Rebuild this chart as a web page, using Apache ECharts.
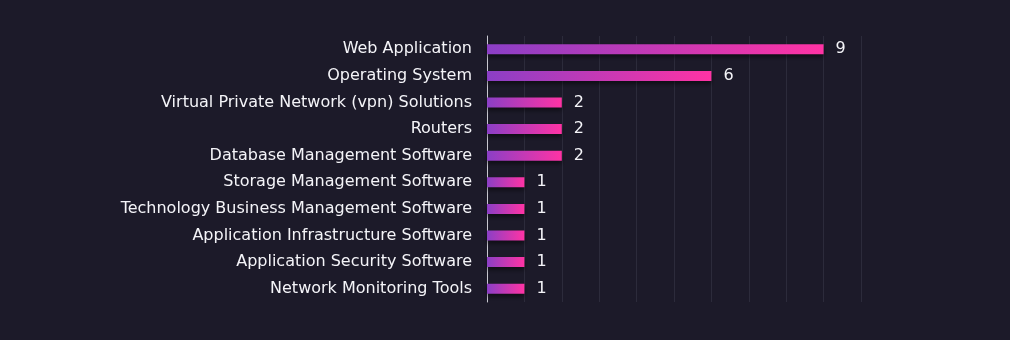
<!DOCTYPE html>
<html><head><meta charset="utf-8">
<script src="https://cdn.jsdelivr.net/npm/echarts@6/dist/echarts.min.js"></script>
<style>html,body{margin:0;padding:0;background:#1c1a29;}#c{width:1010px;height:340px;}</style>
</head><body><div id="c"></div>
<script>
const categories = ["Web Application","Operating System","Virtual Private Network (vpn) Solutions","Routers","Database Management Software","Storage Management Software","Technology Business Management Software","Application Infrastructure Software","Application Security Software","Network Monitoring Tools"];
const values = [9,6,2,2,2,1,1,1,1,1];

const chart = echarts.init(document.getElementById('c'));
chart.setOption({
  backgroundColor: '#1c1a29',
  animation: false,
  grid: {left: 487, right: 149, top: 36, bottom: 38, containLabel: false},
  xAxis: {
    type: 'value', min: 0, max: 10, interval: 1,
    axisLabel: {show: false}, axisLine: {show: false}, axisTick: {show: false},
    splitLine: {show: true, lineStyle: {color: '#2c2b3b', width: 1}}
  },
  yAxis: {
    type: 'category', data: categories, inverse: true,
    axisLine: {show: true, lineStyle: {color: '#c8c8d0', width: 1}},
    axisTick: {show: false},
    axisLabel: {color: '#f4f4f8', fontSize: 16, fontFamily: '"DejaVu Sans ExtraLight", "DejaVu Sans"', margin: 15}
  },
  series: [{
    type: 'bar', data: values, barWidth: 10,
    itemStyle: {
      color: new echarts.graphic.LinearGradient(0, 0, 1, 0, [
        {offset: 0, color: '#8b3fc6'}, {offset: 1, color: '#ff33a4'}
      ]),
      shadowColor: 'rgba(0,0,0,0.5)', shadowBlur: 4, shadowOffsetY: 3
    },
    label: {show: true, position: 'right', distance: 12, color: '#f4f4f8', fontSize: 16, fontFamily: '"DejaVu Sans ExtraLight", "DejaVu Sans"'}
  }]
});
</script></body></html>
